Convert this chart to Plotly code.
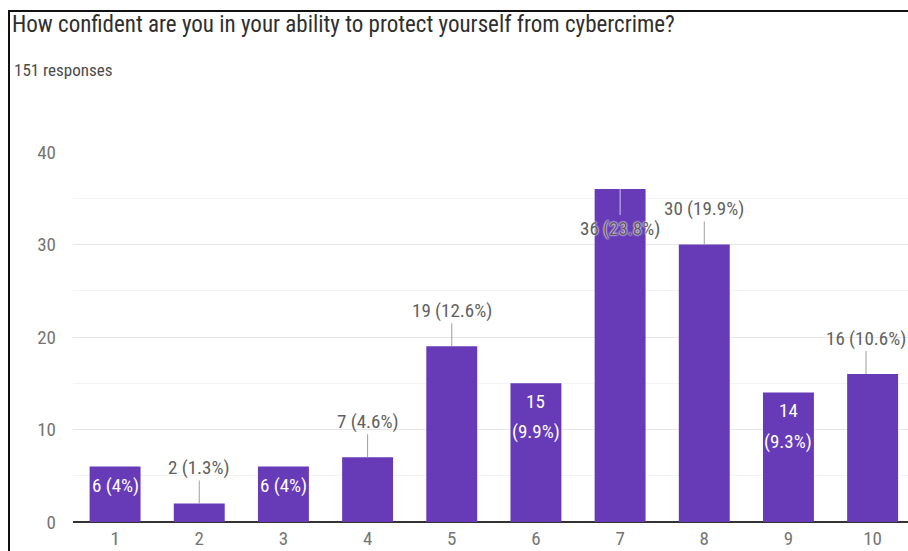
import plotly.graph_objects as go

# Survey results: confidence rating (1-10) vs number of respondents
ratings = [1, 2, 3, 4, 5, 6, 7, 8, 9, 10]
counts = [6, 2, 6, 7, 19, 15, 36, 30, 14, 16]
y_ticks = [0, 10, 20, 30, 40]
total_responses = 151

title_text = "How confident are you in your ability to protect yourself from cybercrime?"
subtitle_text = f"{total_responses} responses"

# How each value label is placed: inside the bar (one or two lines),
# above the bar with a leader line, or pulled down over the bar top.
label_place = ["in", "out", "in", "out", "out", "in2", "over", "out", "in2", "out"]

FONT = "'Liberation Sans Narrow', 'Arial Narrow', 'Roboto Condensed', 'DejaVu Sans Condensed', Arial, sans-serif"
BAR = "#673ab7"

W, H = 908, 551
L, R, T, B = 73, 0, 152, 29
plot_w = W - L - R
plot_h = H - T - B
cat_px = 84.17  # pixel width of one category slot
x0 = 0.5


def px_x(px):
    return (px - L) / plot_w


def px_y(py):
    return (H - B - py) / plot_h


def pct_label(v):
    p = round(v / total_responses * 100, 1)
    s = f"{p:.1f}".rstrip("0").rstrip(".")
    return f"{v} ({s}%)", str(v), f"({s}%)"


def keep_on_page(cat, text):
    # nudge a centred label left if it would run past the right page edge
    centre = L + (cat - x0) * cat_px
    half = len(text) * 8.0 / 2
    overflow = centre + half - (W - 2)
    return -overflow if overflow > 0 else 0


fig = go.Figure(
    go.Bar(
        x=ratings,
        y=counts,
        marker=dict(color=BAR, line=dict(width=0)),
        hoverinfo="skip",
    )
)

annotations = []
for r, v, place in zip(ratings, counts, label_place):
    full, first, second = pct_label(v)
    if place == "in":
        annotations.append(dict(
            x=r, y=v, xref="x", yref="y", text=full, showarrow=False,
            yanchor="middle", yshift=-18.5,
            font=dict(family=FONT, size=19, color="#ffffff"),
        ))
    elif place == "in2":
        for i, line in enumerate((first, second)):
            annotations.append(dict(
                x=r, y=v, xref="x", yref="y", text=line, showarrow=False,
                yanchor="middle", yshift=-18 - 30.5 * i,
                font=dict(family=FONT, size=19, color="#ffffff"),
            ))
    elif place == "out":
        annotations.append(dict(
            x=r, y=v, xref="x", yref="y", text=full, showarrow=True,
            arrowhead=0, arrowwidth=1, arrowcolor="#9e9e9e",
            ax=0, ay=-36, standoff=0, xshift=keep_on_page(r, full),
            font=dict(family=FONT, size=19, color="#616161"),
        ))
    else:  # "over": label drawn over the top of a tall bar
        annotations.append(dict(
            x=r, y=v, xref="x", yref="y", text=full, showarrow=True,
            arrowhead=0, arrowwidth=1, arrowcolor="#cfc4ea",
            ax=0, ay=39, standoff=0,
            font=dict(family=FONT, size=19, color="#5c5c5c",
                      shadow="0px 0px 2px #ffffff, 0px 0px 2px #ffffff"),
        ))

# subtitle under the question
annotations.append(dict(
    xref="paper", yref="paper", x=px_x(12), y=px_y(70),
    xanchor="left", yanchor="middle", text=subtitle_text, showarrow=False,
    font=dict(family=FONT, size=17, color="#4a4a4a"),
))

fig.update_layout(
    width=W, height=H,
    margin=dict(l=L, r=R, t=T, b=B, autoexpand=False),
    paper_bgcolor="#ffffff",
    plot_bgcolor="#ffffff",
    showlegend=False,
    bargap=0.395,
    title=dict(
        text=title_text, xref="container", yref="container",
        x=12 / W, xanchor="left", y=1 - 24 / H, yanchor="middle",
        font=dict(family=FONT, size=23, color="#2f2f2f"),
    ),
    font=dict(family=FONT),
    annotations=annotations,
    shapes=[
        # frame around the card (left and top edges)
        dict(type="path", xref="paper", yref="paper",
             path=f"M {px_x(9)} {px_y(560)} L {px_x(9)} {px_y(11)} L {px_x(920)} {px_y(11)}",
             line=dict(color="#111111", width=2)),
    ],
    xaxis=dict(
        range=[x0, x0 + plot_w / cat_px],
        tickmode="array", tickvals=ratings, ticktext=[str(r) for r in ratings],
        showgrid=False, zeroline=False, showline=False, ticks="",
        ticklabelstandoff=3,
        tickfont=dict(family=FONT, size=19, color="#757575"),
        automargin=False, fixedrange=True,
    ),
    yaxis=dict(
        range=[0, 40],
        tickmode="array", tickvals=y_ticks,
        showgrid=True, gridcolor="#e6e6e6", gridwidth=1,
        minor=dict(dtick=5, showgrid=True, gridcolor="#f3f3f3", gridwidth=1),
        zeroline=True, zerolinecolor="#333333", zerolinewidth=2,
        showline=False, ticks="",
        ticklabelstandoff=16,
        tickfont=dict(family=FONT, size=19, color="#757575"),
        automargin=False, fixedrange=True,
    ),
)

fig.write_html("out.html", config={"displayModeBar": False})
